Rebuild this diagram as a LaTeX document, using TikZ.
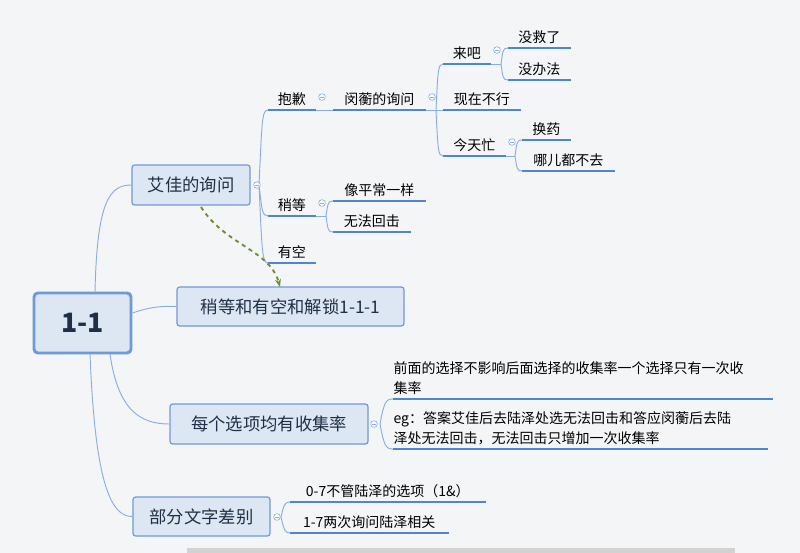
\documentclass[tikz,border=0pt]{standalone}
\usepackage{fontspec}
\setmainfont{Noto Sans CJK SC}
\usetikzlibrary{arrows.meta}
\begin{document}
\begin{tikzpicture}[x=0.75pt,y=-0.75pt,
  box/.style={draw=boxb,fill=boxf,rounded corners=2pt,line width=0.9pt,font=\fontsize{13}{15}\selectfont,text=txt,inner xsep=6pt},
  ul/.style={anchor=south west,inner xsep=6pt,inner ysep=3pt,font=\fontsize{10.5}{12}\selectfont,text=black},
  ulline/.style={draw=ulb,line width=1.4pt},
  conn/.style={draw=lnk,line width=0.7pt},
  coll/.style={circle,draw=lnk,fill=white,line width=0.5pt,minimum size=5pt,inner sep=0pt,
    path picture={\draw[lnk,line width=0.5pt] ([xshift=-1.5pt]path picture bounding box.center)--([xshift=1.5pt]path picture bounding box.center);}}]
\definecolor{boxb}{HTML}{6F9AD6}
\definecolor{boxf}{HTML}{DDE7F3}
\definecolor{txt}{HTML}{1F2F45}
\definecolor{ulb}{HTML}{4F86D2}
\definecolor{lnk}{HTML}{8AAEE0}
\definecolor{grn}{HTML}{6E8F2E}
\definecolor{bgc}{HTML}{F3F5F7}
\newcommand\ulnode[5]{\node[ul,minimum width=#4*0.75pt] (#1) at (#2,#3) {#5}; \draw[ulline] (#1.south west)--(#1.south east);}
\useasboundingbox (0,0) rectangle (800,553);
\fill[bgc] (0,0) rectangle (800,553);
\fill[gray!35] (187,548) rectangle (735,553);
% boxes
\node[draw=boxb,fill=boxf,rounded corners=3pt,line width=2.2pt,minimum width=97*0.75pt,minimum height=60*0.75pt,font=\fontsize{20}{22}\selectfont\bfseries,text=txt] (root) at (82.5,323) {1-1};
\node[box,minimum width=118*0.75pt,minimum height=40*0.75pt] (aj) at (191,185) {艾佳的询问};
\node[box,minimum width=227*0.75pt,minimum height=39*0.75pt] (sd) at (290.5,306.5) {稍等和有空和解锁1-1-1};
\node[box,minimum width=198*0.75pt,minimum height=40*0.75pt] (mg) at (269,424) {每个选项均有收集率};
\node[box,minimum width=137*0.75pt,minimum height=39*0.75pt] (bf) at (201.5,516.5) {部分文字差别};
% underline nodes
\ulnode{bq}{268}{110}{47}{抱歉}
\ulnode{mh}{333}{110}{92}{闵蘅的询问}
\ulnode{lb}{443}{64}{47}{来吧}
\ulnode{mj}{508}{48}{62}{没救了}
\ulnode{mb}{508}{80}{62}{没办法}
\ulnode{xz}{443}{110}{77}{现在不行}
\ulnode{jt}{443}{156}{62}{今天忙}
\ulnode{hy}{522}{140}{48}{换药}
\ulnode{ne}{522}{171}{92}{哪儿都不去}
\ulnode{sdd}{268}{216}{47}{稍等}
\ulnode{xp}{333}{201}{92}{像平常一样}
\ulnode{wf}{333}{232}{77}{无法回击}
\ulnode{yk}{268}{263}{47}{有空}
\node[ul,align=left,font=\fontsize{10.5}{15}\selectfont,inner xsep=4pt] (qm) at (388,399) {前面的选择不影响后面选择的收集率一个选择只有一次收\\集率};
\draw[ulline] (393,399)--(773,399);
\node[ul,align=left,font=\fontsize{10.5}{15}\selectfont,inner xsep=4pt] (eg) at (388,449) {eg：答案艾佳后去陆泽处选无法回击和答应闵蘅后去陆\\泽处无法回击，无法回击只增加一次收集率};
\draw[ulline] (393,449)--(768,449);
\ulnode{a07}{290}{502}{195}{0-7不管陆泽的选项（1\&）}
\ulnode{a17}{290}{533}{158}{1-7两次询问陆泽相关}
% connectors from root
\draw[conn] (95,292) .. controls (97,200) and (110,185) .. (aj.west);
\draw[conn] (root.east) ++(0,-10) .. controls (150,307) and (160,306) .. (sd.west);
\draw[conn] (110,354) .. controls (118,410) and (140,424) .. (mg.west);
\draw[conn] (90,354) .. controls (95,480) and (110,517) .. (bf.west);
% from 艾佳
\draw[conn] (259,185) .. controls (262,120) and (262,110) .. (bq.south west);
\draw[conn] (259,185) .. controls (262,210) and (262,216) .. (sdd.south west);
\draw[conn] (259,185) .. controls (262,250) and (262,263) .. (yk.south west);
\node[coll] at (257,185) {};
\draw[conn] (bq.south east) -- (mh.south west);
\node[coll] at (322,97) {};
\draw[conn] (mh.south east) -- (xz.south west);
\draw[conn] (436,110) .. controls (438,70) and (438,64) .. (lb.south west);
\draw[conn] (436,110) .. controls (438,150) and (438,156) .. (jt.south west);
\node[coll] at (432,97) {};
\draw[conn] (lb.south east) -- (501,64);
\draw[conn] (501,64) .. controls (503,50) and (503,48) .. (mj.south west);
\draw[conn] (501,64) .. controls (503,78) and (503,80) .. (mb.south west);
\node[coll] at (497,50) {};
\draw[conn] (jt.south east) -- (515,156);
\draw[conn] (515,156) .. controls (517,142) and (517,140) .. (hy.south west);
\draw[conn] (515,156) .. controls (517,169) and (517,171) .. (ne.south west);
\node[coll] at (512,142) {};
\draw[conn] (sdd.south east) -- (326,216);
\draw[conn] (326,216) .. controls (328,203) and (328,201) .. (xp.south west);
\draw[conn] (326,216) .. controls (328,230) and (328,232) .. (wf.south west);
\node[coll] at (322,203) {};
% 每个
\draw[conn] (380,424) .. controls (384,402) and (386,399) .. (393,399);
\draw[conn] (380,424) .. controls (384,446) and (386,449) .. (393,449);
\node[coll] at (374,424) {};
% 部分
\draw[conn] (281,517) .. controls (284,504) and (285,502) .. (a07.south west);
\draw[conn] (281,517) .. controls (284,530) and (285,533) .. (a17.south west);
\node[coll] at (277,517) {};
% green dashed arrow
\draw[grn,line width=1.4pt,dashed,-{Stealth[length=6pt]}] (201,207) .. controls (225,245) and (270,250) .. (280,287);
\end{tikzpicture}
\end{document}
